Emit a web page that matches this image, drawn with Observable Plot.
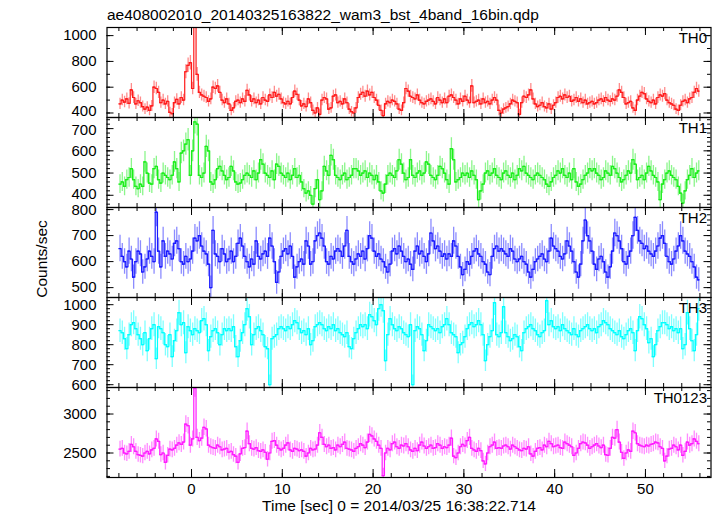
<!DOCTYPE html>
<html><head><meta charset="utf-8">
<script src="https://cdn.jsdelivr.net/npm/d3@7"></script>
<script src="https://cdn.jsdelivr.net/npm/@observablehq/plot@0.6"></script>
<style>
body{margin:0;background:#fff;}
#chart{position:relative;width:717px;height:516px;overflow:hidden;background:#fff;}
#chart svg{position:absolute;left:0;}
</style></head><body><div id="chart"></div>
<script>
// ---- data: 0.25 s bins starting at t = -8 s ----
const title = "ae408002010_20140325163822_wam3_bst_4band_16bin.qdp";
const xTitle = "Time [sec] 0 = 2014/03/25 16:38:22.714";
const yTitle = "Counts/sec";
const tStart = -8, binSize = 0.25;
const panelNames = ["TH0", "TH1", "TH2", "TH3", "TH0123"];
const xMajorTicks = [0, 10, 20, 30, 40, 50];

const th0 = [
470,500,485,510,475,580,520,470, 495,480,450,430,445,420,455,600,
590,560,480,500,470,490,405,395, 480,505,470,520,500,720,770,790,
590,1150,700,560,540,530,520,490, 510,600,590,610,560,500,480,510,
470,420,440,490,500,480,510,490, 575,540,490,510,480,500,470,520,
500,490,540,520,560,530,545,510, 480,470,490,470,520,570,545,500,
455,470,450,510,480,420,400,440, 390,500,520,510,430,440,530,540,
480,490,470,510,480,430,410,400, 440,520,545,560,530,570,540,560,
520,500,460,420,380,470,490,480, 500,490,470,430,420,480,590,570,
530,520,510,540,500,480,470,490, 500,510,490,470,520,500,480,510,
480,530,540,520,500,470,510,490, 530,500,480,610,480,490,500,470,
510,480,490,470,500,520,500,420, 400,430,440,450,470,500,490,480,
390,480,530,520,540,580,510,470, 450,460,480,450,440,470,430,460,
480,520,530,510,540,520,530,490, 500,520,490,510,480,500,470,480,
490,470,480,500,510,490,520,500, 490,510,500,530,580,560,520,470,
480,490,440,420,500,530,560,550, 510,490,480,500,470,520,540,530,
550,500,480,470,460,430,420,460, 490,500,480,510,520,560,590,570];

const th1 = [
450,460,440,470,480,520,470,440, 430,450,440,550,500,455,450,520,
530,470,455,500,490,480,470,490, 550,520,460,590,600,630,650,490,
600,730,720,490,480,500,620,600, 460,450,470,520,530,510,490,470,
480,530,510,460,450,455,470,490, 500,490,480,510,470,500,560,540,
500,490,480,510,470,540,530,500, 490,480,500,470,490,520,480,490,
460,430,410,420,400,360,430,470, 380,420,530,510,490,580,560,490,
480,470,490,500,470,480,490,520, 520,510,490,500,510,480,500,490,
470,490,460,420,410,450,490,500, 490,480,510,560,540,500,470,480,
560,490,480,500,510,490,500,550, 540,490,480,470,490,530,520,500,
470,450,610,560,460,470,480,500, 490,500,480,510,490,470,380,420,
450,500,510,490,500,520,490,480, 470,500,510,490,480,500,470,490,
520,510,530,500,490,480,470,490, 500,490,480,470,450,440,460,480,
490,510,500,520,490,480,500,470, 520,460,440,450,470,490,500,520,
510,520,500,490,470,480,510,500, 490,530,520,500,480,460,470,490,
510,500,560,540,470,480,490,470, 500,530,510,490,480,460,380,450,
470,500,510,490,480,470,440,410, 365,420,470,490,520,480,500,510];

const th2 = [
650,620,600,580,640,610,540,600, 640,630,560,580,610,640,620,600,
790,640,580,680,620,640,630,610, 670,680,650,600,590,620,600,610,
640,690,680,700,660,640,630,590, 500,720,630,620,600,650,630,600,
610,640,600,620,670,690,660,620, 600,580,610,590,680,620,610,630,
640,620,690,660,600,520,560,620, 640,650,630,660,620,540,580,600,
610,590,680,660,590,600,680,700, 710,690,660,600,590,620,610,640,
650,640,620,660,720,620,600,590, 610,630,620,640,610,650,700,690,
640,620,630,610,600,580,560,590, 640,650,630,660,640,620,600,610,
590,570,640,660,630,640,620,600, 630,710,680,650,660,640,620,630,
610,630,620,680,660,620,580,550, 570,600,590,620,640,650,630,620,
600,590,560,550,620,650,660,640, 650,640,630,620,650,640,610,600,
610,620,600,590,560,540,570,600, 610,620,630,610,600,640,690,660,
650,640,620,610,630,680,660,640, 600,560,540,590,680,760,700,680,
640,590,570,610,620,600,560,540, 580,640,710,700,680,650,600,590,
620,640,700,770,720,680,670,650, 660,640,630,620,640,660,690,700,
670,620,600,590,610,640,660,700, 680,640,630,620,600,580,540,530];

const th3 = [
870,860,830,780,850,900,910,880, 850,830,800,860,770,830,880,900,
730,890,880,860,800,790,850,740, 820,870,960,900,910,760,890,870,
850,880,870,860,920,930,900,770, 840,870,880,860,800,850,880,870,
880,870,890,790,740,820,860,900, 980,940,800,850,880,890,870,850,
790,780,600,830,840,850,880,890, 880,870,890,880,900,920,910,880,
860,870,850,880,800,820,890,900, 910,900,880,870,890,880,900,870,
880,860,850,840,860,790,780,830, 860,880,900,890,900,880,950,940,
920,900,980,1000,970,720,850,930, 900,880,870,890,880,860,850,840,
900,600,870,890,880,850,770,820, 900,890,880,870,880,860,890,900,
930,900,860,850,840,760,800,810, 840,880,900,910,890,900,920,900,
850,720,800,840,870,1010,850,840, 860,990,860,840,820,830,850,840,
790,770,860,880,890,900,880,870, 850,840,860,870,1020,900,920,890,
880,890,870,900,880,870,860,850, 880,850,840,870,880,890,900,880,
870,880,860,890,900,920,910,900, 880,870,860,850,870,840,830,850,
870,880,860,770,870,940,930,900, 880,810,830,740,800,870,890,910,
910,900,880,890,870,880,860,880, 780,800,960,880,820,770,850,980];

const th0123 = [
2550,2560,2500,2490,2520,2610,2580,2520, 2480,2470,2460,2500,2520,2490,2540,2560,
2680,2650,2480,2500,2380,2470,2550,2540, 2560,2600,2630,2610,2640,2870,2850,2600,
2680,3330,2700,2660,2690,2830,2810,2600, 2580,2570,2560,2600,2580,2540,2550,2560,
2510,2520,2480,2460,2380,2490,2560,2570, 2780,2620,2560,2550,2570,2530,2520,2540,
2510,2420,2500,2650,2660,2600,2560,2540, 2560,2600,2630,2540,2520,2560,2550,2530,
2540,2520,2460,2500,2560,2540,2550,2600, 2760,2700,2610,2580,2600,2560,2570,2540,
2600,2580,2610,2640,2560,2550,2540,2520, 2560,2580,2620,2600,2570,2640,2740,2720,
2680,2650,2600,2560,2210,2500,2560,2540, 2620,2640,2580,2560,2600,2590,2620,2580,
2540,2520,2560,2530,2600,2640,2590,2560, 2580,2600,2560,2570,2620,2600,2560,2580,
2570,2600,2690,2460,2440,2500,2580,2610, 2590,2660,2700,2560,2540,2520,2560,2530,
2400,2360,2500,2580,2600,2640,2560,2570, 2560,2590,2600,2580,2550,2600,2580,2560,
2540,2530,2560,2550,2580,2490,2460,2520, 2560,2570,2540,2600,2580,2650,2620,2580,
2590,2600,2570,2560,2640,2620,2600,2580, 2470,2500,2560,2620,2640,2630,2600,2560,
2580,2600,2620,2590,2570,2600,2480,2470, 2560,2700,2690,2800,2640,2510,2430,2500,
2540,2520,2780,2760,2620,2600,2590,2580, 2600,2590,2610,2620,2640,2630,2580,2560,
2400,2460,2550,2560,2600,2580,2540,2600, 2470,2520,2640,2600,2620,2680,2650,2620];

// y tick labels per panel
const yLabels = [[400,600,800,1000],[400,500,600,700],[500,600,700,800],[600,700,800,900,1000],[2500,3000]];
const yMinorStep = [100, 20, 20, 20, 100];

// ---- layout / style ----
const series = [th0, th1, th2, th3, th0123];
const colors = ["#ff1a1a", "#1aee1a", "#1a1aff", "#00ffff", "#ff1aff"];
const domains = [[365,1063],[345,750],[462,808],[586,1036],[2186,3340]];
const W = 717, ML = 106.5, MR = 6.5, PH = 90, FW = W - ML - MR;
const tops = [26.5, 116.5, 206.5, 296.5, 386.5];
const xDomain = [-9.31, 57.22];
const FONT = "'Liberation Sans', Arial, Helvetica, sans-serif";
const FS = 15;
const xMinor = d3.range(-8, 57, 2);
// small vertical nudges for edge labels that sit close to a neighbour panel's label
const labelNudge = {"0:400": -1.5, "1:700": 1.5, "1:400": -1, "2:800": 1};

const chart = document.getElementById("chart");

series.forEach((vals, k) => {
  const last = k === series.length - 1;
  const data = vals.map((v, i) => ({t: tStart + binSize * (i + 0.5), v, e: Math.sqrt(v * binSize) / binSize}));
  const [y0, y1] = domains[k];
  const st = yMinorStep[k];
  const yMinor = d3.range(Math.ceil(y0 / st) * st, y1, st);
  const MB = last ? 40 : 0;
  const c = colors[k];
  const marks = [
    Plot.ruleX(data, {x: "t", y1: d => d.v - d.e, y2: d => d.v + d.e, stroke: c, strokeOpacity: 0.5, strokeWidth: 1.3, clip: true}),
    Plot.line(data, {x: "t", y: "v", curve: "step", stroke: c, strokeWidth: 1.2, clip: true}),
    Plot.ruleY(data, {y: "v", x1: d => d.t - binSize / 2, x2: d => d.t + binSize / 2, stroke: c, strokeWidth: 1.2, clip: true}),
    Plot.frame({stroke: "#000", strokeWidth: 1.2}),
    Plot.tickY(yMinor, {y: d => d, insetRight: FW - 3.5, stroke: "#000"}),
    Plot.tickY(yMinor, {y: d => d, insetLeft: FW - 3.5, stroke: "#000"}),
    Plot.tickY(yLabels[k], {y: d => d, insetRight: FW - 7, stroke: "#000"}),
    Plot.tickY(yLabels[k], {y: d => d, insetLeft: FW - 7, stroke: "#000"}),
    Plot.tickX(xMinor, {x: d => d, insetBottom: PH - 4, stroke: "#000"}),
    Plot.tickX(xMinor, {x: d => d, insetTop: PH - 4, stroke: "#000"}),
    Plot.tickX(xMajorTicks, {x: d => d, insetBottom: PH - 8, stroke: "#000"}),
    Plot.tickX(xMajorTicks, {x: d => d, insetTop: PH - 8, stroke: "#000"}),
    ...yLabels[k].map(v => Plot.axisY({ticks: [v], tickSize: 0, tickPadding: 10.5, dy: labelNudge[k + ":" + v] || 0, label: null, tickFormat: d => String(d)})),
    Plot.text([panelNames[k]], {frameAnchor: "top-right", dx: -4, dy: 5, text: d => d, textAnchor: "end", lineAnchor: "top", fill: "#000"})
  ];
  if (last) marks.push(Plot.axisX({ticks: xMajorTicks, tickSize: 0, tickPadding: 6, label: null, tickFormat: d => String(d)}));
  const svg = Plot.plot({
    width: W, height: PH + MB,
    marginLeft: ML, marginRight: MR, marginTop: 0, marginBottom: MB,
    style: `overflow: visible; background: transparent; font-family: ${FONT}; font-size: ${FS}px; color: #000;`,
    x: {domain: xDomain, axis: null},
    y: {domain: domains[k], axis: null},
    marks
  });
  svg.style.top = tops[k] + "px";
  chart.appendChild(svg);
});

// overlay text (title and axis titles)
const ov = d3.select(chart).append("svg")
  .attr("width", W).attr("height", 516)
  .style("top", "0px").style("overflow", "visible")
  .attr("font-family", "Liberation Sans, Arial, Helvetica, sans-serif").attr("font-size", 15.5);
ov.append("text").attr("x", 107).attr("y", 20).text(title);
ov.append("text").attr("x", 399).attr("y", 511).attr("text-anchor", "middle").text(xTitle);
ov.append("text").attr("transform", "translate(46.5,259) rotate(-90)").attr("text-anchor", "middle").text(yTitle);
</script></body></html>
